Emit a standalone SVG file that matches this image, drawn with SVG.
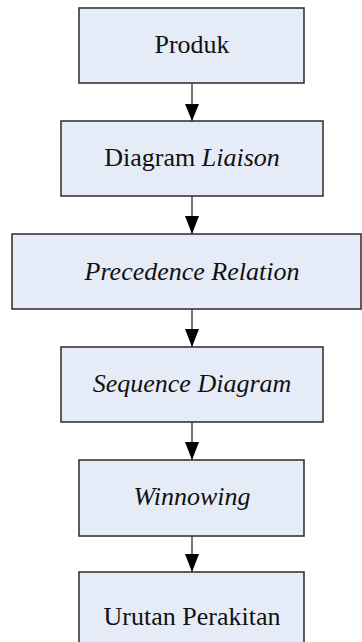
<svg xmlns="http://www.w3.org/2000/svg" width="362" height="642" viewBox="0 0 362 642">
<style>
.box{fill:#e6ecf7;stroke:#2a2a2a;stroke-width:1.5}
.t{font-family:"Liberation Serif","Times New Roman",serif;font-size:26px;fill:#111;text-anchor:middle}
.i{font-style:italic}
.c{stroke:#777;stroke-width:2;fill:none}
.ah{fill:#000}
</style>
<g id="connectors">
<line class="c" x1="192" y1="83" x2="192" y2="121"/>
<path class="ah" d="M185,104 L199,104 L192,121 Z"/>
<line class="c" x1="192" y1="196" x2="192" y2="234"/>
<path class="ah" d="M185,216 L199,216 L192,234 Z"/>
<line class="c" x1="192" y1="309" x2="192" y2="347"/>
<path class="ah" d="M185,329 L199,329 L192,347 Z"/>
<line class="c" x1="192" y1="422" x2="192" y2="460"/>
<path class="ah" d="M185,442 L199,442 L192,460 Z"/>
<line class="c" x1="192" y1="536" x2="192" y2="572"/>
<path class="ah" d="M185,554 L199,554 L192,572 Z"/>
</g>
<g id="n1"><rect class="box" x="79" y="8" width="225" height="75"/><text class="t" x="192" y="53">Produk</text></g>
<g id="n2"><rect class="box" x="61" y="121" width="262" height="75"/><text class="t" x="192" y="166">Diagram <tspan class="i">Liaison</tspan></text></g>
<g id="n3"><rect class="box" x="12" y="234" width="349" height="75"/><text class="t i" x="192" y="280">Precedence Relation</text></g>
<g id="n4"><rect class="box" x="61" y="347" width="262" height="75"/><text class="t i" x="192" y="392">Sequence Diagram</text></g>
<g id="n5"><rect class="box" x="79" y="460" width="225" height="76"/><text class="t i" x="192" y="505">Winnowing</text></g>
<g id="n6"><rect class="box" x="79" y="572" width="225" height="80"/><text class="t" x="192" y="625">Urutan Perakitan</text></g>
</svg>
